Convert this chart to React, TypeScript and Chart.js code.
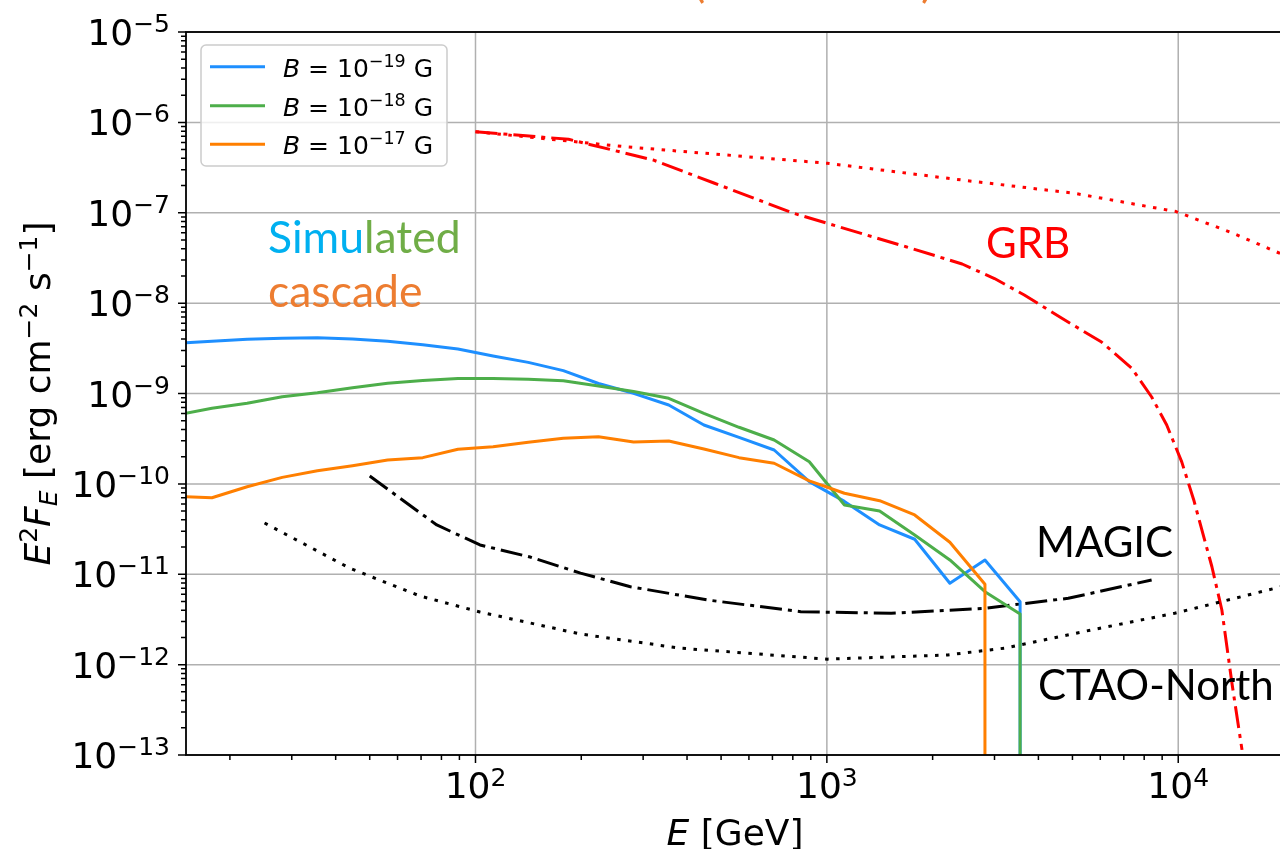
import React, { useEffect, useRef } from "react";
import { Chart, registerables } from "chart.js";

Chart.register(...registerables);

// Energy bins of the simulated cascade spectra [GeV] (0.1 dex spacing)
const energyBins = [
  14.13, 17.78, 22.39, 28.18, 35.48, 44.67, 56.23, 70.79, 89.13, 112.2, 141.3, 177.8, 223.9,
  281.8, 354.8, 446.7, 562.3, 707.9, 891.3, 1122, 1413, 1778, 2239, 2818, 3548, 4467,
];

// Cascade E^2 F_E [erg cm^-2 s^-1] for three IGMF strengths (0 = no flux in bin)
const cascadeB19 = [
  3.6e-9, 3.78e-9, 3.98e-9, 4.08e-9, 4.14e-9, 4.01e-9, 3.78e-9, 3.47e-9, 3.11e-9, 2.6e-9, 2.21e-9,
  1.79e-9, 1.29e-9, 1.005e-9, 7.46e-10, 4.48e-10, 3.27e-10, 2.37e-10, 1.06e-10, 6.4e-11, 3.51e-11,
  2.44e-11, 7.94e-12, 1.44e-11, 4.97e-12, 0,
];
const cascadeB18 = [
  5.8e-10, 6.86e-10, 7.79e-10, 9.22e-10, 1.02e-9, 1.16e-9, 1.3e-9, 1.39e-9, 1.47e-9, 1.47e-9, 1.44e-9,
  1.38e-9, 1.21e-9, 1.05e-9, 8.85e-10, 6.04e-10, 4.23e-10, 3.06e-10, 1.76e-10, 5.84e-11, 5.01e-11,
  2.72e-11, 1.44e-11, 6.41e-12, 3.63e-12, 0,
];
const cascadeB17 = [
  7.25e-11, 7.03e-11, 9.3e-11, 1.18e-10, 1.4e-10, 1.59e-10, 1.84e-10, 1.95e-10, 2.42e-10, 2.58e-10,
  2.88e-10, 3.19e-10, 3.33e-10, 2.9e-10, 2.98e-10, 2.43e-10, 1.95e-10, 1.69e-10, 1.08e-10, 7.87e-11,
  6.52e-11, 4.53e-11, 2.26e-11, 7.74e-12, 0, 0,
];

// MAGIC sensitivity
const magicE = [50, 77.6, 103, 143, 199, 276, 457, 843, 1524, 2806, 4864, 8400];
const magicF = [1.22e-10, 3.51e-11, 2.11e-11, 1.55e-11, 1.03e-11, 7.28e-12, 5.19e-12, 3.85e-12, 3.7e-12, 4.2e-12, 5.42e-12, 8.63e-12];

// CTAO-North sensitivity
const ctaoE = [25.1, 43.8, 69.5, 103, 199, 383, 1004, 2209, 3199, 5663, 9772, 21100];
const ctaoF = [3.69e-11, 1.17e-11, 5.74e-12, 3.82e-12, 2.18e-12, 1.52e-12, 1.15e-12, 1.28e-12, 1.52e-12, 2.42e-12, 3.7e-12, 7.8e-12];

// GRB spectrum, EBL-absorbed
const grbObsE = [
  100, 184, 320, 479, 804, 1679, 2427, 3000, 3647, 4653, 6050, 7369, 8403, 9273, 10233, 11071, 12470,
  13310, 14220, 15190,
];
const grbObsF = [
  7.88e-7, 6.5e-7, 3.84e-7, 2.12e-7, 9.86e-8, 4.21e-8, 2.71e-8, 1.87e-8, 1.23e-8, 6.84e-9, 3.71e-9,
  1.91e-9, 9.15e-10, 4.48e-10, 1.75e-10, 6.64e-11, 1.21e-11, 4.02e-12, 6.21e-13, 1.14e-13,
];

// GRB intrinsic spectrum
const grbIntE = [100, 266, 1002, 2427, 5070, 9862, 14220, 20000];
const grbIntF = [7.88e-7, 5.38e-7, 3.53e-7, 2.3e-7, 1.64e-7, 1.03e-7, 6.0e-8, 3.4e-8];

const xDecades = [2, 3, 4];
const yDecades = [-13, -12, -11, -10, -9, -8, -7, -6, -5];

const legendLabels = ["−19", "−18", "−17"];

const X_MIN = 15;
const X_MAX = 2e4;
const Y_MIN = 1e-13;
const Y_MAX = 1e-5;
const FLOOR = 1e-20; // log-scale stand-in for an empty bin

const BLUE = "#1e8fff";
const GREEN = "#4dae4a";
const ORANGE = "#ff7f00";
const RED = "#ff0000";

function pairs(xs: number[], ys: number[]) {
  return xs.map((x, i) => ({ x, y: ys[i] }));
}

// Spectrum points; an empty bin after a filled one drops straight down
function cascadePoints(values: number[]) {
  const pts: { x: number; y: number }[] = [];
  for (let i = 0; i < values.length; i++) {
    if (values[i] > 0) {
      pts.push({ x: energyBins[i], y: values[i] });
    } else if (pts.length) {
      pts.push({ x: pts[pts.length - 1].x, y: FLOOR });
      break;
    }
  }
  return pts;
}

type Run = { t: string; f: string; dy?: number; c?: string };

function runsWidth(ctx: CanvasRenderingContext2D, runs: Run[]) {
  let w = 0;
  for (const r of runs) {
    ctx.font = r.f;
    w += ctx.measureText(r.t).width;
  }
  return w;
}

function drawRuns(ctx: CanvasRenderingContext2D, runs: Run[], x: number, y: number, align: "left" | "center" | "right") {
  const w = runsWidth(ctx, runs);
  let cx = align === "left" ? x : align === "center" ? x - w / 2 : x - w;
  ctx.textAlign = "left";
  ctx.textBaseline = "alphabetic";
  for (const r of runs) {
    ctx.font = r.f;
    if (r.c) ctx.fillStyle = r.c;
    ctx.fillText(r.t, cx, y + (r.dy || 0));
    cx += ctx.measureText(r.t).width;
  }
}

const DV = '"DejaVu Sans"';
const TICK_FONT = `36px ${DV}`;
const TICK_SUP = `25px ${DV}`;
const ANNO = "42px Lato";
const ANNO_BIG = "44.5px Lato";

const decor = {
  id: "decor",
  beforeDatasetsDraw(chart: any) {
    const { ctx, chartArea: a, scales } = chart;
    const x = scales.x;
    const y = scales.y;
    ctx.save();
    ctx.strokeStyle = "#b0b0b0";
    ctx.lineWidth = 1.5;
    ctx.beginPath();
    for (const e of xDecades) {
      const px = x.getPixelForValue(Math.pow(10, e));
      ctx.moveTo(px, a.top);
      ctx.lineTo(px, a.bottom);
    }
    for (const e of yDecades) {
      const py = y.getPixelForValue(Math.pow(10, e));
      ctx.moveTo(a.left, py);
      ctx.lineTo(a.right, py);
    }
    ctx.stroke();
    ctx.restore();
  },
  afterDatasetsDraw(chart: any) {
    const { ctx, chartArea: a, scales } = chart;
    const x = scales.x;
    const y = scales.y;
    ctx.save();

    // spines
    ctx.strokeStyle = "#000";
    ctx.lineWidth = 1.8;
    ctx.strokeRect(a.left, a.top, a.right - a.left, a.bottom - a.top);

    // ticks
    ctx.lineWidth = 1.5;
    ctx.beginPath();
    for (let e = 1; e <= 4; e++) {
      for (let m = 1; m <= 9; m++) {
        const v = m * Math.pow(10, e);
        if (v < X_MIN || v > X_MAX) continue;
        const px = x.getPixelForValue(v);
        ctx.moveTo(px, a.bottom);
        ctx.lineTo(px, a.bottom + (m === 1 ? 8 : 5));
      }
    }
    for (let e = -13; e <= -5; e++) {
      for (let m = 1; m <= 9; m++) {
        const v = m * Math.pow(10, e);
        if (v < Y_MIN || v > Y_MAX * 1.0001) continue;
        const py = y.getPixelForValue(v);
        ctx.moveTo(a.left, py);
        ctx.lineTo(a.left - (m === 1 ? 8 : 5), py);
      }
    }
    ctx.stroke();

    // tick labels
    ctx.fillStyle = "#000";
    for (const e of xDecades) {
      const px = x.getPixelForValue(Math.pow(10, e));
      drawRuns(ctx, [{ t: "10", f: TICK_FONT }, { t: String(e), f: TICK_SUP, dy: -12 }], px, 798, "center");
    }
    for (const e of yDecades) {
      const py = y.getPixelForValue(Math.pow(10, e));
      drawRuns(
        ctx,
        [{ t: "10", f: TICK_FONT }, { t: "−" + Math.abs(e), f: TICK_SUP, dy: -13 }],
        170,
        py + 13,
        "right"
      );
    }

    // axis titles
    const cxMid = (a.left + a.right) / 2;
    drawRuns(
      ctx,
      [
        { t: "E", f: `italic 36px ${DV}` },
        { t: " [GeV]", f: `36px ${DV}` },
      ],
      cxMid,
      845,
      "center"
    );
    ctx.save();
    ctx.translate(50, (a.top + a.bottom) / 2);
    ctx.rotate(-Math.PI / 2);
    drawRuns(
      ctx,
      [
        { t: "E", f: `italic 36px ${DV}` },
        { t: "2", f: `25px ${DV}`, dy: -13 },
        { t: "F", f: `italic 36px ${DV}` },
        { t: "E", f: `italic 25px ${DV}`, dy: 7 },
        { t: " [erg cm", f: `36px ${DV}` },
        { t: "−2", f: `25px ${DV}`, dy: -13 },
        { t: " s", f: `36px ${DV}` },
        { t: "−1", f: `25px ${DV}`, dy: -13 },
        { t: "]", f: `36px ${DV}` },
      ],
      0,
      0,
      "center"
    );
    ctx.restore();

    // annotations
    drawRuns(ctx, [{ t: "Simu", f: ANNO_BIG, c: "#00b0f0" }, { t: "lated", f: ANNO_BIG, c: "#70ad47" }], 268, 253, "left");
    drawRuns(ctx, [{ t: "cascade", f: ANNO_BIG, c: "#ed7d31" }], 268, 307, "left");
    drawRuns(ctx, [{ t: "GRB", f: ANNO, c: RED }], 986, 258, "left");
    drawRuns(ctx, [{ t: "MAGIC", f: ANNO, c: "#000" }], 1036, 557, "left");
    drawRuns(ctx, [{ t: "CTAO-North", f: ANNO, c: "#000" }], 1038, 700, "left");

    // heading brackets at the top edge
    drawRuns(ctx, [{ t: "(", f: "46px Lato", c: "#ed7d31" }], 693, -3, "left");
    drawRuns(ctx, [{ t: ")", f: "46px Lato", c: "#ed7d31" }], 921, -3, "left");

    // legend
    const lx = 201;
    const ly = 45;
    const lw = 246;
    const lh = 121;
    ctx.beginPath();
    ctx.roundRect(lx, ly, lw, lh, 5);
    ctx.fillStyle = "rgba(255,255,255,0.8)";
    ctx.fill();
    ctx.strokeStyle = "#cccccc";
    ctx.lineWidth = 1.5;
    ctx.stroke();
    const colors = [BLUE, GREEN, ORANGE];
    const rowY = [66.7, 105.7, 144.3];
    colors.forEach((c, i) => {
      ctx.strokeStyle = c;
      ctx.lineWidth = 3;
      ctx.beginPath();
      ctx.moveTo(210, rowY[i]);
      ctx.lineTo(265, rowY[i]);
      ctx.stroke();
      ctx.fillStyle = "#000";
      drawRuns(
        ctx,
        [
          { t: "B", f: `italic 25px ${DV}` },
          { t: " = ", f: `25px ${DV}` },
          { t: "10", f: `25px ${DV}` },
          { t: legendLabels[i], f: `17.5px ${DV}`, dy: -10 },
          { t: " G", f: `25px ${DV}` },
        ],
        283,
        rowY[i] + 10,
        "left"
      );
    });

    ctx.restore();
  },
};

export default function App() {
  const ref = useRef<HTMLCanvasElement>(null);

  useEffect(() => {
    const canvas = ref.current;
    if (!canvas) return;
    const solid = { pointRadius: 0, borderWidth: 3, tension: 0, showLine: true, borderJoinStyle: "round" as const };
    const chart = new Chart(canvas, {
      type: "scatter",
      data: {
        datasets: [
          { label: "B = 1e-17 G", data: cascadePoints(cascadeB17), borderColor: ORANGE, order: 1, ...solid },
          { label: "B = 1e-18 G", data: cascadePoints(cascadeB18), borderColor: GREEN, order: 2, ...solid },
          { label: "B = 1e-19 G", data: cascadePoints(cascadeB19), borderColor: BLUE, order: 3, ...solid },
          { label: "MAGIC", data: pairs(magicE, magicF), borderColor: "#000", borderDash: [22, 6, 4, 6], order: 4, ...solid },
          { label: "CTAO-North", data: pairs(ctaoE, ctaoF), borderColor: "#000", borderDash: [3.5, 7.5], order: 5, ...solid },
          { label: "GRB", data: pairs(grbObsE, grbObsF), borderColor: RED, borderDash: [22, 6, 4, 6], order: 6, ...solid },
          { label: "GRB intrinsic", data: pairs(grbIntE, grbIntF), borderColor: RED, borderDash: [3.5, 7.5], order: 7, ...solid },
        ],
      },
      options: {
        animation: false,
        responsive: false,
        devicePixelRatio: 1,
        events: [],
        layout: { padding: { top: 32, right: 6, left: 0, bottom: 0 } },
        plugins: { legend: { display: false }, tooltip: { enabled: false } },
        scales: {
          x: {
            type: "logarithmic",
            min: X_MIN,
            max: X_MAX,
            bounds: "data",
            grid: { display: false },
            border: { display: false },
            ticks: { display: false },
            afterFit(s: any) {
              s.height = 94;
            },
          },
          y: {
            type: "logarithmic",
            min: Y_MIN,
            max: Y_MAX,
            bounds: "data",
            grid: { display: false },
            border: { display: false },
            ticks: { display: false },
            afterFit(s: any) {
              s.width = 186;
            },
          },
        },
      },
      plugins: [decor],
    } as any);
    return () => chart.destroy();
  }, []);

  return (
    <div
      style={{
        position: "fixed",
        left: 0,
        top: 0,
        width: 1280,
        height: 849,
        overflow: "hidden",
        background: "#ffffff",
      }}
    >
      <canvas ref={ref} width={1290} height={849} style={{ display: "block", width: 1290, height: 849 }} />
    </div>
  );
}
